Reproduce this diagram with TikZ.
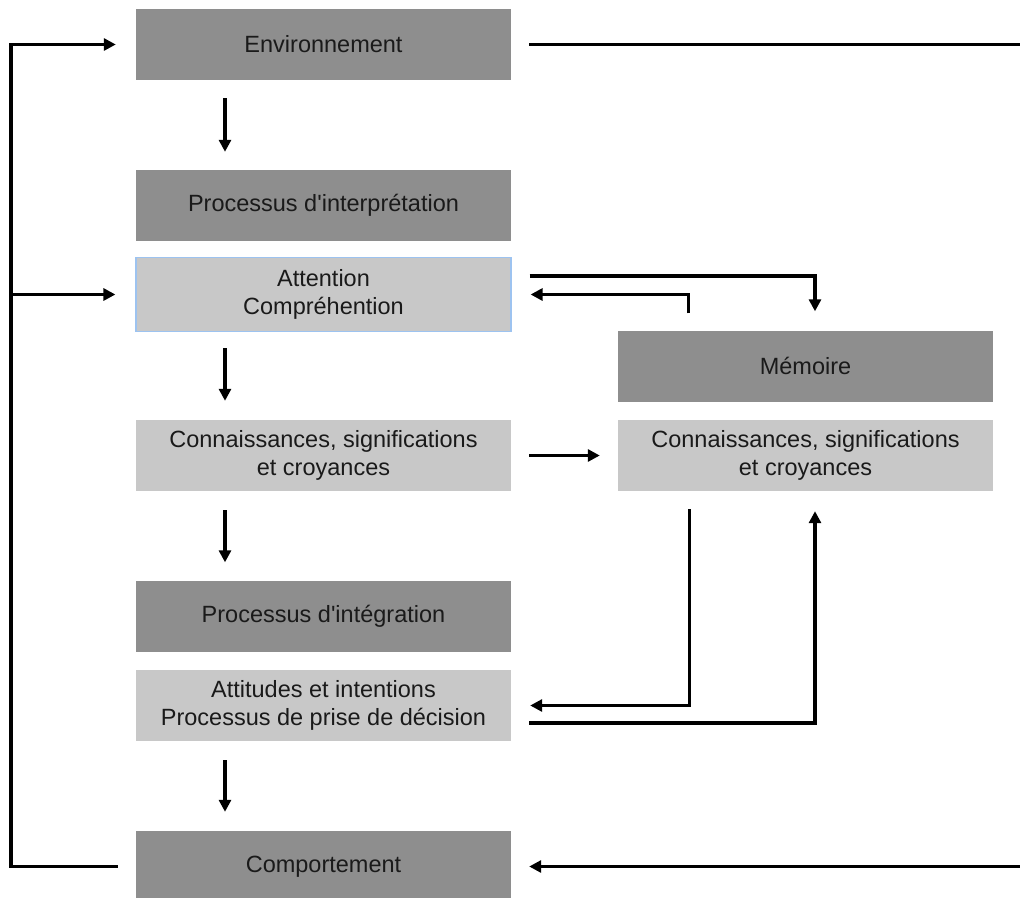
\documentclass[tikz,border=0pt]{standalone}
\usepackage{fontspec}
\setmainfont{Liberation Sans}
\usetikzlibrary{arrows.meta,calc}
\definecolor{darkbox}{HTML}{8E8E8E}
\definecolor{lightbox}{HTML}{C8C8C8}
\definecolor{bluebord}{HTML}{9DC3F0}
\definecolor{txt}{HTML}{1A1A1A}
\newcommand{\aq}{\textquotesingle}
\begin{document}
\begin{tikzpicture}[x=1pt,y=-1pt,
  boxbase/.style={minimum width=375pt, minimum height=71pt, inner sep=0pt, align=center,
    text=txt, font=\fontsize{23.5}{28}\selectfont},
  darkb/.style={boxbase, fill=darkbox},
  lightb/.style={boxbase, fill=lightbox},
  conn/.style={line width=3.5pt, black},
  arr/.style={conn, -{Triangle[length=12pt,width=12pt]}}]
\clip (0,0) rectangle (1020,897);
\fill[white] (0,0) rectangle (1020,897);
% left column
\node[darkb] (env) at (323.5,44.5) {Environnement};
\node[darkb] (interp) at (323.5,205.5) {Processus d\aq interprétation};
\node[lightb, minimum height=74pt, draw=bluebord, line width=1.2pt] (att) at (323.5,294.5) {Attention\\Compréhention};
\node[lightb] (conn) at (323.5,455.5) {Connaissances, significations\\et croyances};
\node[darkb] (integ) at (323.5,616) {Processus d\aq intégration};
\node[lightb] (attit) at (323.5,705.5) {Attitudes et intentions\\Processus de prise de décision};
\node[darkb] (comp) at (323.5,866.5) {Comportement};
% right column
\node[darkb] (mem) at (805.5,366) {Mémoire};
\node[lightb] (conn2) at (805.5,455.5) {Connaissances, significations\\et croyances};
% helper coordinates
\coordinate (colA) at (225,0);
\coordinate (loopL) at (11,0);
\coordinate (edgeR) at (1025,0);
% vertical arrows
\draw[arr, shorten <=18pt, shorten >=18pt] (env.south -| colA) -- (interp.north -| colA);
\draw[arr, shorten <=16pt, shorten >=19pt] (att.south -| colA) -- (conn.north -| colA);
\draw[arr, shorten <=19pt, shorten >=18pt] (conn.south -| colA) -- (integ.north -| colA);
\draw[arr, shorten <=19pt, shorten >=19pt] (attit.south -| colA) -- (comp.north -| colA);
% left feedback loop
\draw[arr, shorten <=18pt, shorten >=20pt] (comp.west) -- (comp.west -| loopL) -- (env.west -| loopL) -- (env.west);
\draw[arr, shorten >=20pt] (att.west -| loopL) -- (att.west);
% right edge lines
\draw[conn, shorten <=18pt] (env.east) -- (env.east -| edgeR);
\draw[arr, shorten >=18pt] (comp.east -| edgeR) -- (comp.east);
% attention <-> memoire
\draw[arr, shorten <=18pt, shorten >=19pt] ($(att.east)+(0,-18.5)$) -| ($(mem.north)+(9.5,0)$);
\draw[arr, shorten <=17pt, shorten >=19pt] ($(mem.north)+(-117,0)$) |- (att.east);
% connaissances -> connaissances
\draw[arr, shorten <=18pt, shorten >=18pt] (conn.east) -- (conn2.west);
% memoire <-> attitudes
\draw[arr, shorten <=18pt, shorten >=19pt] ($(conn2.south)+(-116,0)$) |- (attit.east);
\draw[arr, shorten <=18pt, shorten >=20pt] ($(attit.east)+(0,17.5)$) -| ($(conn2.south)+(9.5,0)$);
\end{tikzpicture}
\end{document}
